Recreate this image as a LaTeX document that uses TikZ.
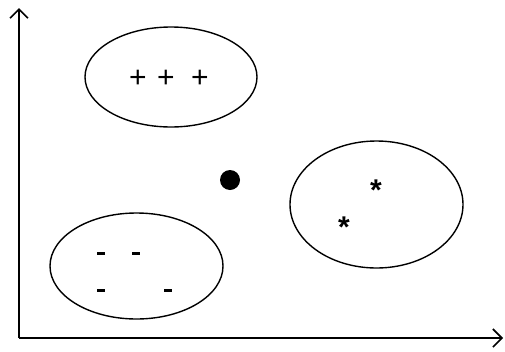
\documentclass[tikz,border=0pt]{standalone}
\usepackage{fontspec}
\setmainfont{Liberation Sans}
\usetikzlibrary{arrows.meta,shapes.geometric}
\begin{document}
\begin{tikzpicture}[x=1pt,y=-1pt,
  blob/.style={draw,line width=1.4pt,ellipse,inner sep=0pt},
  axis/.style={line width=1.8pt,-{Straight Barb[length=9pt,width=18pt,line width=1.6pt]}},
  plus/.style={font=\fontsize{30}{30}\selectfont,inner sep=0pt},
  star/.style={font=\bfseries\fontsize{30}{30}\selectfont,inner sep=0pt},
  minusbar/.style={fill=black,minimum width=8pt,minimum height=3pt,inner sep=0pt},
  dotnode/.style={circle,fill=black,minimum size=20pt,inner sep=0pt}]
\useasboundingbox (0,0) rectangle (505,351);
\coordinate (o) at (19,338);
\coordinate (ytip) at (19,8);
\coordinate (xtip) at (503,338);
\draw[axis] (o) -- (ytip);
\draw[axis] (o) -- (xtip);
\node[blob,minimum width=172pt,minimum height=100pt] (top) at (171,77) {};
\node[blob,minimum width=173pt,minimum height=127pt] (right) at (376.5,204.5) {};
\node[blob,minimum width=173pt,minimum height=106pt] (left) at (136.5,266) {};
\node[plus] (p1) at (138,79) {+};
\node[plus] (p2) at (166,79) {+};
\node[plus] (p3) at (200,79) {+};
\node[star] (s1) at (376,190) {*};
\node[star] (s2) at (344,227) {*};
\node[minusbar] (d1) at (101,253) {};
\node[minusbar] (d2) at (136,253) {};
\node[minusbar] (d3) at (101,290) {};
\node[minusbar] (d4) at (168,290) {};
\node[dotnode] (dot) at (230,180) {};
\end{tikzpicture}
\end{document}
